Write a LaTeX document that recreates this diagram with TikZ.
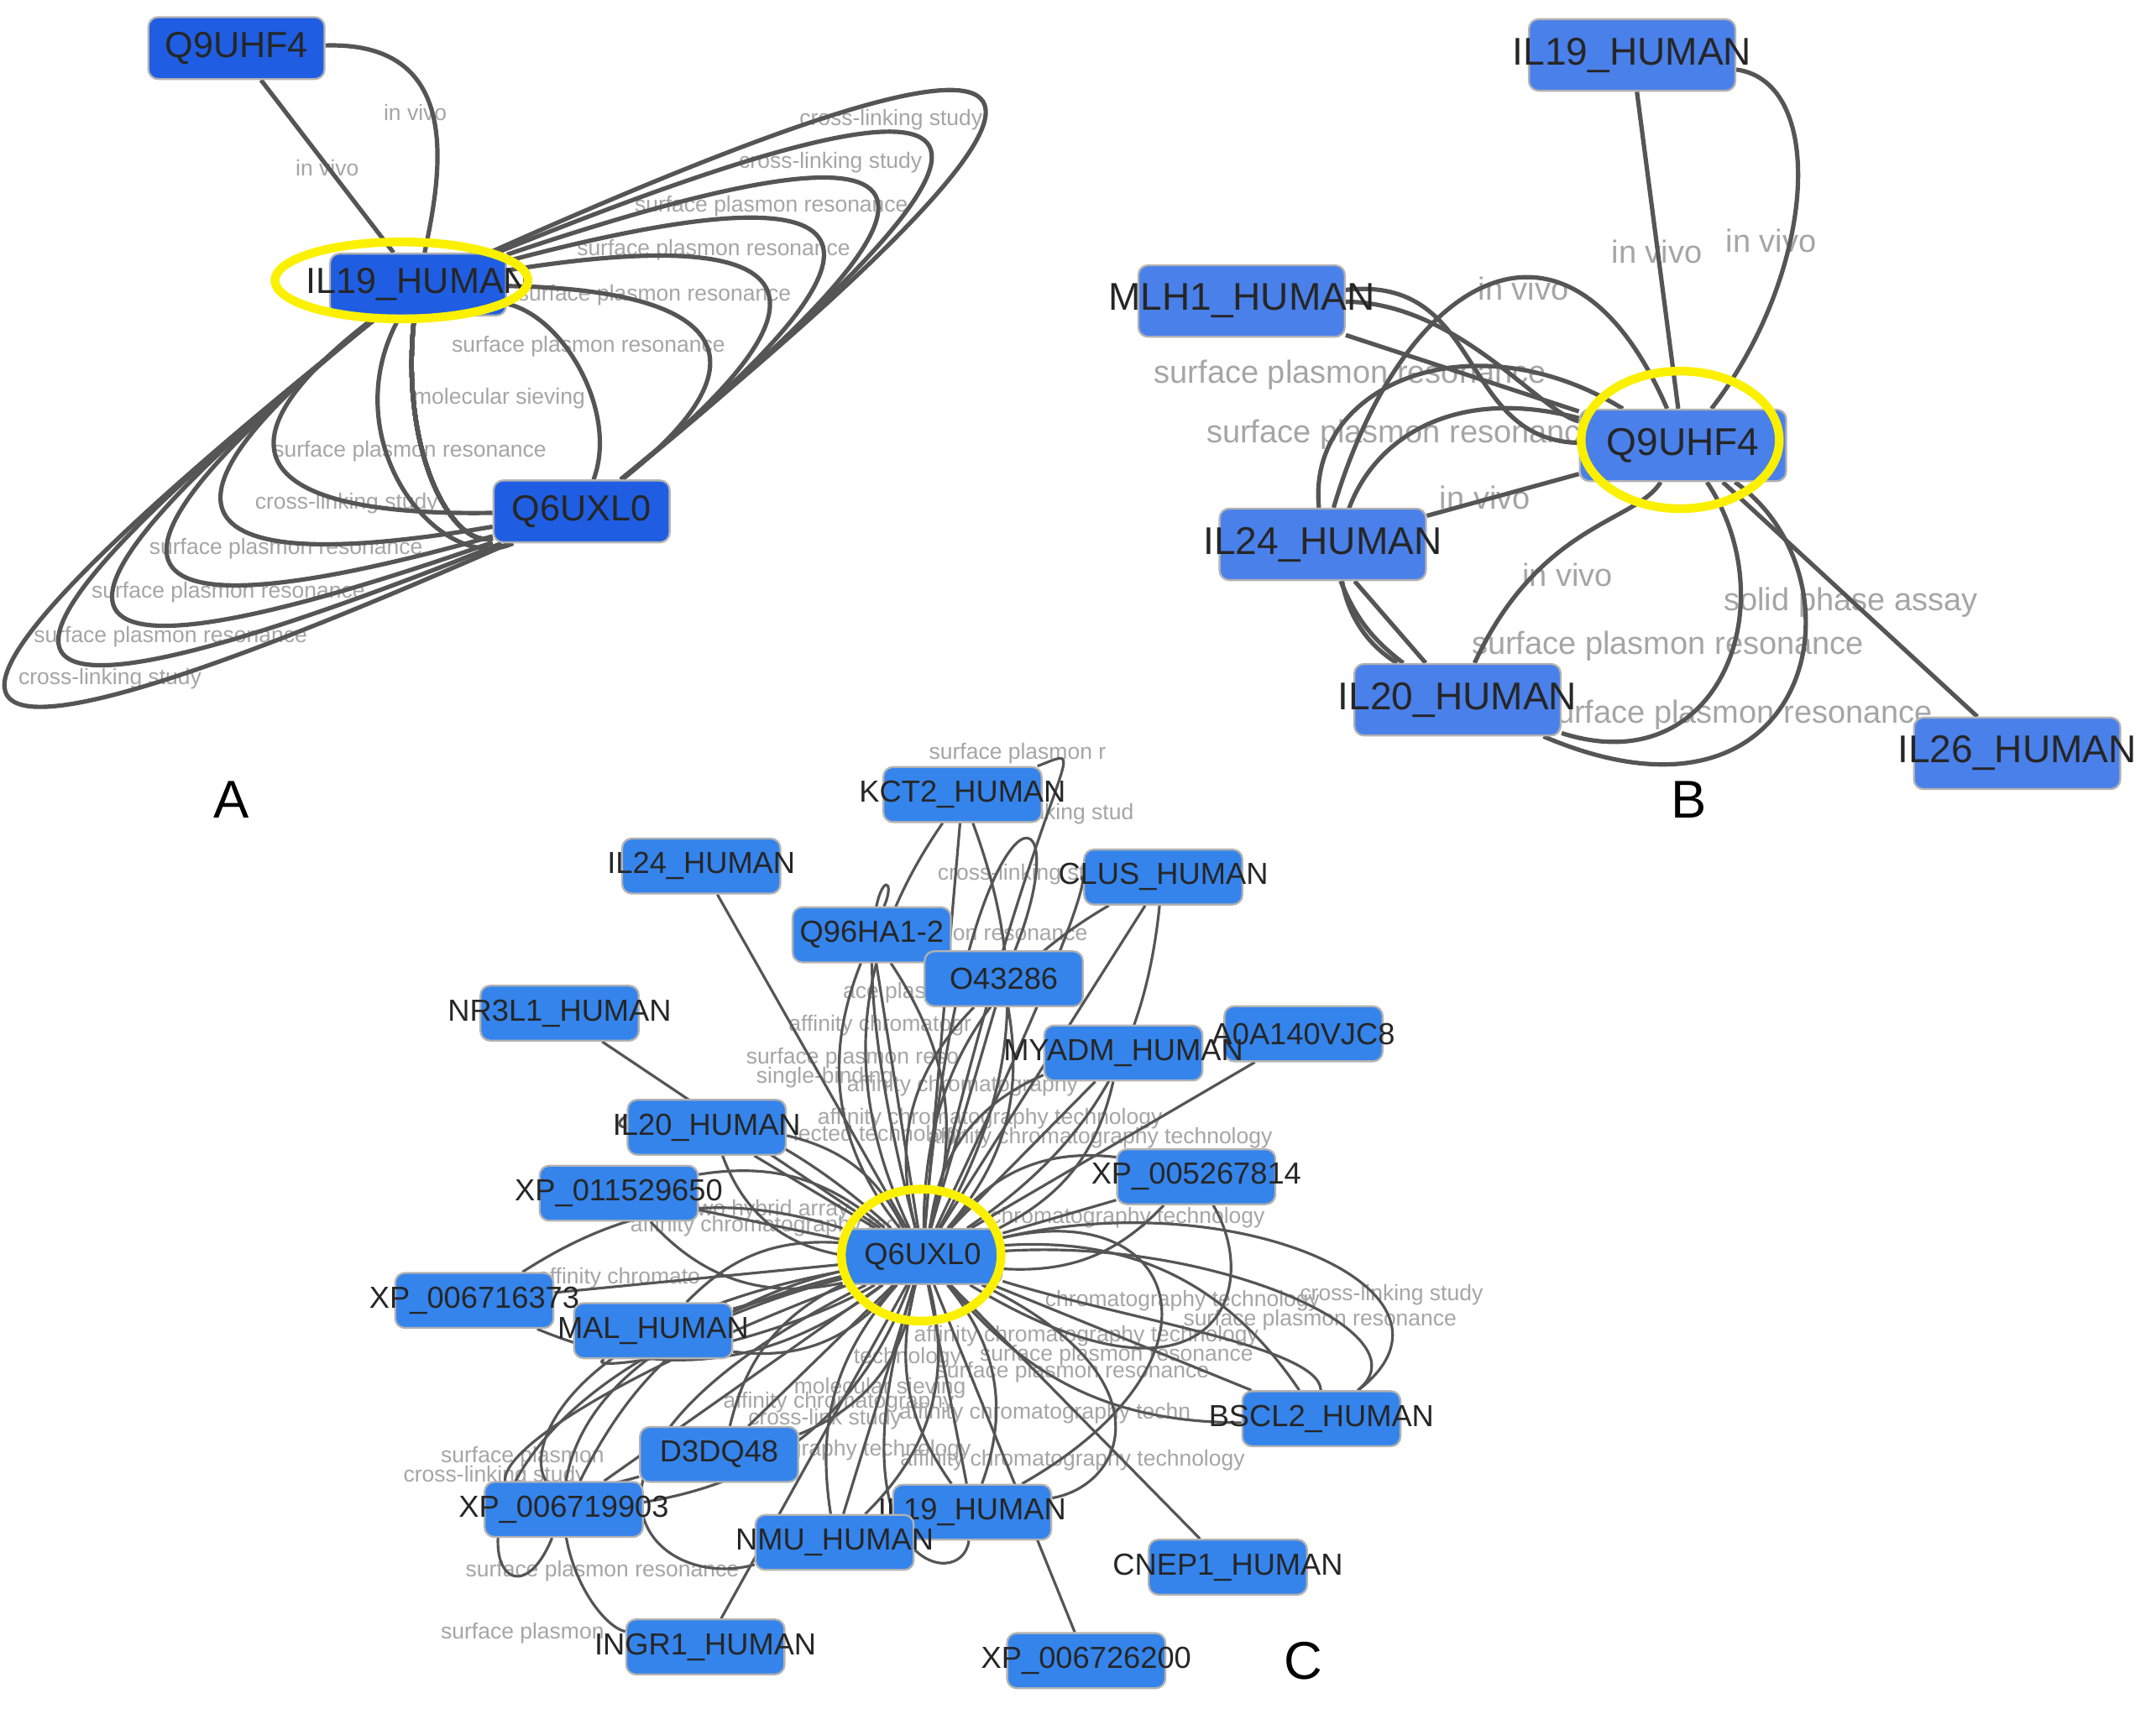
\documentclass[tikz,border=0pt]{standalone}
\usepackage{fontspec}
\setmainfont{Liberation Sans}
\usetikzlibrary{calc,backgrounds}
\definecolor{boxA}{RGB}{31,94,226}
\definecolor{boxB}{RGB}{74,128,234}
\definecolor{boxC}{RGB}{52,132,236}
\definecolor{edge}{RGB}{85,85,85}
\definecolor{lblgray}{RGB}{165,165,165}
\definecolor{ringy}{RGB}{250,240,0}
\tikzset{
  prot/.style ={draw=gray!60, rounded corners=2pt, fill=boxA, text=black!85, inner sep=0pt,
                minimum width=1.28cm, minimum height=0.45cm, font=\fontsize{7.5}{8}\selectfont,
                execute at begin node=\hbox to 0pt\bgroup\hss, execute at end node=\hss\egroup},
  protB/.style={prot, fill=boxB, minimum width=1.5cm, minimum height=0.52cm, font=\fontsize{8}{9}\selectfont},
  protC/.style={prot, fill=boxC, minimum width=1.15cm, minimum height=0.40cm, font=\fontsize{6.3}{7}\selectfont},
  lk/.style   ={draw=edge, line width=0.9pt},
  lkc/.style  ={draw=edge, line width=0.55pt},
  lbl/.style  ={text=lblgray, font=\fontsize{4.6}{5}\selectfont, inner sep=0pt},
  ring/.style ={draw=ringy, line width=1.8pt},
  tag/.style  ={font=\fontsize{11}{12}\selectfont},
}
\newcommand\aloop[2]{\draw[lk] (a19) .. controls ($1.333*(#1,#2)-0.333*(363,290)+(-16,-26)$)
  and ($1.333*(#1,#2)-0.333*(363,290)+(16,26)$) .. (aq6);}

\begin{document}
\begin{tikzpicture}[x=0.01cm, y=-0.01cm]
  \useasboundingbox (0,0) rectangle (1568,1243);

  % ---------- A ----------
  \node[prot] (aq9) at (172,35) {Q9UHF4};
  \node[prot] (a19) at (304,207) {IL19\_HUMAN};
  \node[prot] (aq6) at (423,372) {Q6UXL0};
  \draw[ring] (292,204) ellipse[x radius=0.92cm, y radius=0.28cm];
  \begin{pgfonlayer}{background}
    \foreach \x/\y/\t in {302/82/in vivo, 238/122/in vivo, 648/87/cross-linking study, 604/118/cross-linking study,
      561/150/surface plasmon resonance, 519/182/surface plasmon resonance, 476/215/surface plasmon resonance,
      428/252/surface plasmon resonance, 363/290/molecular sieving, 298/328/surface plasmon resonance,
      252/366/cross-linking study, 208/399/surface plasmon resonance, 166/431/surface plasmon resonance,
      124/463/surface plasmon resonance, 80/494/cross-linking study}
      \node[lbl] at (\x,\y) {\t};
    \draw[lk] (aq9) -- (a19);
    \draw[lk] (aq9) .. controls (340,30) and (320,130) .. (a19);
    \foreach \x/\y in {705/80, 665/112, 625/148, 585/180, 545/213, 500/250,
                      15/500, 55/468, 95/437, 135/405, 175/370, 215/335}
      \aloop{\x}{\y}
    \draw[lk] (a19) .. controls (290,330) and (330,400) .. (aq6);
    \draw[lk] (a19) .. controls (410,230) and (450,300) .. (aq6);
    \draw[lk] (a19) .. controls (240,320) and (320,420) .. (aq6);
  \end{pgfonlayer}
  \node[tag] (tA) at (168,582) {A};

  % ---------- B ----------
  \node[protB] (b19) at (1187,40) {IL19\_HUMAN};
  \node[protB] (bml) at (903,219) {MLH1\_HUMAN};
  \node[protB] (bq9) at (1224,324) {Q9UHF4};
  \node[protB] (b24) at (962,396) {IL24\_HUMAN};
  \node[protB] (b20) at (1060,509) {IL20\_HUMAN};
  \node[protB] (b26) at (1467,548) {IL26\_HUMAN};
  \draw[ring] (1222,320) ellipse[x radius=0.72cm, y radius=0.50cm];
  \begin{pgfonlayer}{background}
    \foreach \x/\y/\t in {1205/183/in vivo, 1288/175/in vivo, 1108/210/in vivo, 982/273/surface plasmon resonance,
      1020/316/surface plasmon resonance, 1080/362/in vivo, 1140/418/in vivo, 1346/438/solid phase assay,
      1213/470/surface plasmon resonance, 1263/520/surface plasmon resonance}
      \node[lbl, font=\fontsize{6.6}{7}\selectfont] at (\x,\y) {\t};
    \draw[lk] (b19) -- (bq9);
    \draw[lk] (b19) .. controls (1330,60) and (1320,200) .. (bq9);
    \draw[lk] (bq9) .. controls (1140,130) and (1020,200) .. (b24);
    \draw[lk] (bml) -- (bq9);
    \draw[lk] (bml) .. controls (1060,220) and (1120,300) .. (bq9);
    \draw[lk] (bml) .. controls (1080,200) and (1060,320) .. (bq9);
    \draw[lk] (b24) .. controls (950,280) and (1070,230) .. (bq9);
    \draw[lk] (b24) -- (bq9);
    \draw[lk] (b20) .. controls (930,430) and (980,260) .. (bq9);
    \draw[lk] (b20) .. controls (1120,380) and (1190,380) .. (bq9);
    \draw[lk] (b20) .. controls (1250,570) and (1300,440) .. (bq9);
    \draw[lk] (b20) .. controls (1320,620) and (1360,420) .. (bq9);
    \draw[lk] (b24) -- (b20);
    \draw[lk] (b24) to[bend right=15] (b20);
    \draw[lk] (bq9) -- (b26);
  \end{pgfonlayer}
  \node[tag] (tB) at (1228,582) {B};

  % ---------- C ----------
  \node[protC] (ckct2) at (700,578) {KCT2\_HUMAN};
  \node[protC] (cil24) at (510,630) {IL24\_HUMAN};
  \node[protC] (cclus) at (846,638) {CLUS\_HUMAN};
  \node[protC] (cq96) at (634,680) {Q96HA1-2};
  \node[protC] (co43) at (730,712) {O43286};
  \node[protC] (cnr3) at (407,737) {NR3L1\_HUMAN};
  \node[protC] (ca0a) at (948,752) {A0A140VJC8};
  \node[protC] (cmyadm) at (817,766) {MYADM\_HUMAN};
  \node[protC] (cil20) at (514,820) {IL20\_HUMAN};
  \node[protC] (cxp52) at (870,856) {XP\_005267814};
  \node[protC] (cxp11) at (450,868) {XP\_011529650};
  \node[protC] (cq6) at (671,914) {Q6UXL0};
  \node[protC] (cxp67) at (345,946) {XP\_006716373};
  \node[protC] (cmal) at (475,968) {MAL\_HUMAN};
  \node[protC] (cbscl) at (961,1032) {BSCL2\_HUMAN};
  \node[protC] (cd3d) at (523,1058) {D3DQ48};
  \node[protC] (cxp69) at (410,1098) {XP\_006719903};
  \node[protC] (cil19) at (707,1100) {IL19\_HUMAN};
  \node[protC] (cnmu) at (607,1122) {NMU\_HUMAN};
  \node[protC] (ccnep) at (893,1140) {CNEP1\_HUMAN};
  \node[protC] (cingr) at (513,1198) {INGR1\_HUMAN};
  \node[protC] (cxp72) at (790,1208) {XP\_006726200};
  \draw[ring] (670,913) ellipse[x radius=0.58cm, y radius=0.48cm];
  \begin{pgfonlayer}{background}
    \foreach \x/\y/\t in {740/548/surface plasmon r, 762/592/cross-linking stud, 740/636/cross-linking stu,
      742/680/on resonance, 650/722/ace plasm, 640/746/affinity chromatogr, 620/770/surface plasmon reso,
      600/784/single-binding, 700/790/affinity chromatography, 720/814/affinity chromatography technology,
      640/826/lected technology, 800/828/affinity chromatography technology, 560/880/two hybrid array,
      560/892/affinity chromatography tech, 820/886/chromatography technology, 450/930/affinity chromato,
      860/946/chromatography technology, 1012/942/cross-linking study, 960/960/surface plasmon resonance,
      790/972/affinity chromatography technology, 812/986/surface plasmon resonance, 660/988/technology,
      780/998/surface plasmon resonance, 640/1010/molecular sieving, 610/1020/affinity chromatography,
      760/1028/affinity chromatography techn, 600/1032/cross-link study, 640/1055/graphy technology,
      780/1062/affinity chromatography technology, 380/1060/surface plasmon, 360/1074/cross-linking study,
      438/1143/surface plasmon resonance, 380/1188/surface plasmon}
      \node[lbl] at (\x,\y) {\t};
    \foreach \n in {ckct2,cil24,cclus,cq96,co43,cnr3,ca0a,cmyadm,cil20,cxp52,cxp11,
                    cxp67,cmal,cbscl,cd3d,cxp69,cil19,cnmu,ccnep,cingr,cxp72}
      \draw[lkc] (cq6) -- (\n);
    \foreach \n in {ckct2,cq96,co43,cmyadm,cil20,cmal,cd3d,cil19,cnmu,cxp69,cxp67,cbscl,cxp52,cclus,cxp11}
      {\draw[lkc] (cq6) to[bend left=30] (\n);
       \draw[lkc] (cq6) to[bend right=25] (\n);}
    \draw[lkc] (cq6) .. controls (760,540) and (800,540) .. (ckct2);
    \draw[lkc] (cq6) .. controls (700,560) and (790,560) .. (co43);
    \draw[lkc] (cq6) .. controls (600,640) and (660,620) .. (cq96);
    \draw[lkc] (cq6) .. controls (820,600) and (780,640) .. (cclus);
    \draw[lkc] (cq6) .. controls (900,860) and (1080,940) .. (cbscl);
    \draw[lkc] (cq6) .. controls (880,900) and (1040,970) .. (cbscl);
    \draw[lkc] (cq6) .. controls (820,960) and (960,980) .. (cbscl);
    \draw[lkc] (cq6) .. controls (860,870) and (900,990) .. (cil19);
    \draw[lkc] (cq6) .. controls (280,1020) and (360,1220) .. (cxp69);
    \draw[lkc] (cq6) .. controls (320,1000) and (420,1180) .. (cingr);
    \draw[lkc] (cq6) .. controls (380,1060) and (470,1160) .. (cnmu);
    \draw[lkc] (cq6) .. controls (340,1040) and (300,1120) .. (cd3d);
    \draw[lkc] (cq6) .. controls (420,960) and (380,1050) .. (cxp69);
    \draw[lkc] (cq6) .. controls (600,1140) and (700,1160) .. (cil19);
    \draw[lkc] (cq6) .. controls (850,1000) and (820,1080) .. (cil19);
    \draw[lkc] (cq6) .. controls (500,760) and (430,820) .. (cil20);
    \draw[lkc] (cq6) .. controls (560,980) and (420,1000) .. (cmal);
    \draw[lkc] (cq6) .. controls (880,1040) and (920,940) .. (cxp52);
  \end{pgfonlayer}
  \node[tag] (tC) at (948,1208) {C};
\end{tikzpicture}
\end{document}
